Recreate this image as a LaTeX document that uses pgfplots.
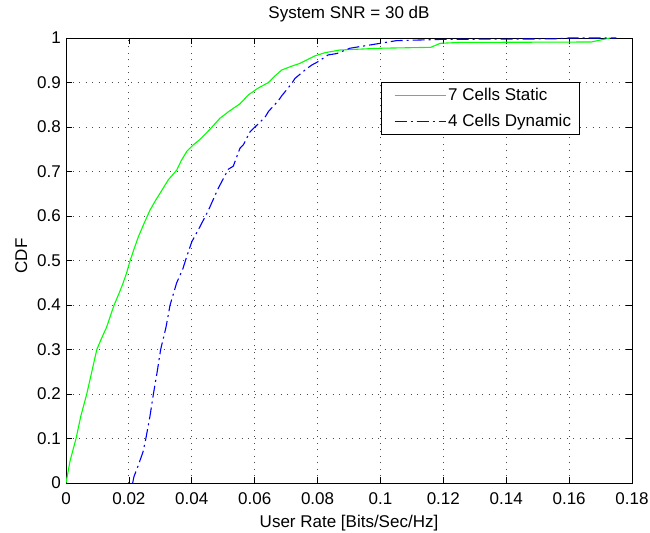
\documentclass[border=0pt]{standalone}
\usepackage{pgfplots}
\pgfplotsset{compat=1.18}
\usepackage{fontspec}
\setmainfont{Liberation Sans}
\usetikzlibrary{calc}
\definecolor{mgreen}{rgb}{0,1,0}
\definecolor{mblue}{rgb}{0,0,1}
\pgfplotsset{longline/.style={legend image code/.code={\path (0bp,0bp); \draw[##1] (6bp,0bp) -- (57bp,0bp);}}}
\begin{document}
\fontsize{17bp}{20bp}\selectfont
\begin{tikzpicture}
\begin{axis}[
  scale only axis, width=566bp, height=445bp,
  xmin=0, xmax=0.18, ymin=0, ymax=1,
  xtick={0,0.02,0.04,0.06,0.08,0.1,0.12,0.14,0.16,0.18},
  xticklabels={0,0.02,0.04,0.06,0.08,0.1,0.12,0.14,0.16,0.18},
  ytick={0,0.1,0.2,0.3,0.4,0.5,0.6,0.7,0.8,0.9,1},
  yticklabels={0,0.1,0.2,0.3,0.4,0.5,0.6,0.7,0.8,0.9,1},
  tick align=inside, tick pos=both, major tick length=6bp,
  tick style={black, line width=0.7bp},
  axis line style={black, line width=0.8bp},
  grid=major,
  major grid style={black!70, line width=0.8bp, dash pattern=on 1bp off 5.5bp},
  xticklabel style={anchor=base, yshift=-21bp, inner sep=0pt},
  yticklabel style={anchor=east, xshift=-5bp, inner sep=0pt},
  title={System SNR = 30 dB},
  title style={at={(axis description cs:0.5,1)}, anchor=base, yshift=14bp, inner sep=0pt},
  xlabel={User Rate [Bits/Sec/Hz]},
  xlabel style={at={(axis description cs:0.5,0)}, anchor=base, yshift=-44bp, inner sep=0pt},
  ylabel={CDF},
  every axis y label/.style={at={(axis description cs:-0.0689,0.51)}, rotate=90, anchor=base, inner sep=0pt},
  legend style={at={(axis description cs:0.908,0.902)}, anchor=north east,
    line width=0.8bp, inner xsep=6.5bp, inner ysep=4bp,
    font=\fontsize{17bp}{20bp}\selectfont, row sep=7bp},
  legend cell align=left,
]
\addplot[mgreen, line width=1.1bp, longline] coordinates {
(0,0) (0.0013,0.05) (0.0032,0.1) (0.0047,0.15) (0.0066,0.2) (0.0082,0.25)
(0.0098,0.3) (0.0113,0.325) (0.0129,0.35) (0.0141,0.375) (0.0153,0.4) (0.0168,0.425) (0.0182,0.45) (0.0194,0.475) (0.0204,0.5)
(0.0217,0.527) (0.023,0.553) (0.0248,0.583) (0.0267,0.613) (0.0283,0.633) (0.0299,0.651) (0.0325,0.681) (0.0352,0.703)
(0.0367,0.725) (0.0384,0.745) (0.0405,0.76) (0.0426,0.772) (0.0458,0.795) (0.049,0.82) (0.052,0.836) (0.0553,0.852)
(0.058,0.872) (0.061,0.887) (0.0644,0.9) (0.0665,0.915) (0.0686,0.928) (0.0715,0.936) (0.0744,0.943) (0.0792,0.96)
(0.0824,0.967) (0.0871,0.973) (0.0935,0.975) (0.1,0.977) (0.116,0.979)
(0.119,0.988) (0.125,0.99) (0.167,0.991) (0.173,1.0)
};
\addlegendentry{7 Cells Static}
\addplot[mblue, line width=1.1bp, dash pattern=on 12bp off 4bp on 2bp off 4bp, longline] coordinates {
(0.0212,0) (0.0216,0.014) (0.023,0.04) (0.0245,0.07) (0.0254,0.1)
(0.0267,0.15) (0.0278,0.2) (0.029,0.25) (0.0301,0.3) (0.0318,0.35)
(0.0331,0.4) (0.0352,0.45) (0.0371,0.48) (0.0384,0.509) (0.04,0.542)
(0.0426,0.576) (0.0453,0.613) (0.0484,0.662) (0.0516,0.705) (0.0532,0.712)
(0.0553,0.752) (0.0564,0.76) (0.0585,0.789) (0.0601,0.8) (0.0633,0.822)
(0.0644,0.835) (0.0675,0.859) (0.0686,0.87) (0.0718,0.898) (0.0728,0.909)
(0.076,0.928) (0.0781,0.939) (0.0802,0.947) (0.0834,0.962) (0.0861,0.965)
(0.0903,0.977) (0.0999,0.988) (0.105,0.994) (0.12,0.997) (0.155,0.998)
(0.16,1.0) (0.175,1.0)
};
\addlegendentry{4 Cells Dynamic}
\coordinate (bl) at (rel axis cs:0,0);
\coordinate (tr) at (rel axis cs:1,1);
\end{axis}
\pgfresetboundingbox
\path ($(bl)+(-66bp,-50bp)$) rectangle ($(tr)+(18bp,38bp)$);
\end{tikzpicture}
\end{document}
